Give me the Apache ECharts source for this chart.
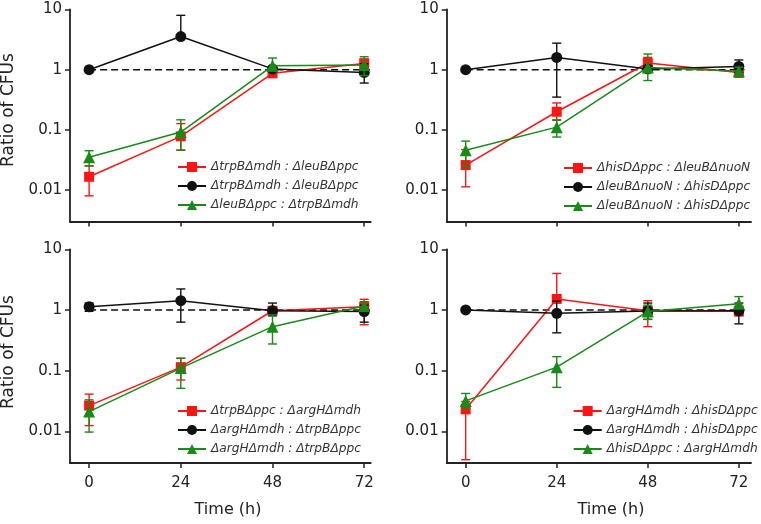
<!DOCTYPE html>
<html><head><meta charset="utf-8">
<script src="https://cdn.jsdelivr.net/npm/echarts@6/dist/echarts.min.js"></script>
<style>html,body{margin:0;padding:0;background:#fff}#c{width:761px;height:524px}</style>
</head><body><div id="c"></div>
<script>
// ---- data ----
const times = [0, 24, 48, 72];
const xTicks = [0, 24, 48, 72];
const yTicks = [0.01, 0.1, 1, 10];
const refLineX = [0, 73.5];
const refLineY = 1;

// Panel A (top-left)
const A_labels = ['ΔtrpBΔmdh : ΔleuBΔppc', 'ΔtrpBΔmdh : ΔleuBΔppc', 'ΔleuBΔppc : ΔtrpBΔmdh'];
const A_red = [0.0166, 0.078, 0.87, 1.27];
const A_red_lo = [0.008, 0.046, 0.80, 1.02];
const A_red_hi = [0.0252, 0.127, 0.95, 1.50];
const A_black = [1.0, 3.55, 1.03, 0.90];
const A_black_lo = [1.0, 3.55, 0.95, 0.60];
const A_black_hi = [1.0, 8.0, 1.12, 1.25];
const A_green = [0.035, 0.092, 1.16, 1.20];
const A_green_lo = [0.025, 0.046, 0.95, 0.80];
const A_green_hi = [0.045, 0.147, 1.56, 1.64];

// Panel B (top-right)
const B_labels = ['ΔhisDΔppc : ΔleuBΔnuoN', 'ΔleuBΔnuoN : ΔhisDΔppc', 'ΔleuBΔnuoN : ΔhisDΔppc'];
const B_red = [0.026, 0.20, 1.29, 0.90];
const B_red_lo = [0.0113, 0.144, 1.0, 0.75];
const B_red_hi = [0.047, 0.28, 1.60, 1.10];
const B_black = [1.0, 1.6, 1.03, 1.13];
const B_black_lo = [1.0, 0.35, 0.90, 0.90];
const B_black_hi = [1.0, 2.76, 1.15, 1.45];
const B_green = [0.046, 0.111, 1.09, 0.94];
const B_green_lo = [0.024, 0.076, 0.66, 0.80];
const B_green_hi = [0.065, 0.147, 1.82, 1.10];

// Panel C (bottom-left)
const C_labels = ['ΔtrpBΔppc : ΔargHΔmdh', 'ΔargHΔmdh : ΔtrpBΔppc', 'ΔargHΔmdh : ΔtrpBΔppc'];
const C_red = [0.0265, 0.114, 0.97, 1.13];
const C_red_lo = [0.0124, 0.07, 0.85, 0.57];
const C_red_hi = [0.041, 0.16, 1.10, 1.50];
const C_black = [1.13, 1.42, 0.97, 0.94];
const C_black_lo = [0.95, 0.63, 0.80, 0.63];
const C_black_hi = [1.30, 2.22, 1.30, 1.20];
const C_green = [0.0211, 0.11, 0.53, 1.16];
const C_green_lo = [0.0097, 0.051, 0.275, 1.0];
const C_green_hi = [0.033, 0.16, 0.83, 1.37];

// Panel D (bottom-right)
const D_labels = ['ΔargHΔmdh : ΔhisDΔppc', 'ΔargHΔmdh : ΔhisDΔppc', 'ΔhisDΔppc : ΔargHΔmdh'];
const D_red = [0.023, 1.52, 0.97, 0.95];
const D_red_lo = [0.0034, 1.52, 0.53, 0.80];
const D_red_hi = [0.031, 4.0, 1.42, 1.15];
const D_black = [1.0, 0.88, 0.96, 0.97];
const D_black_lo = [1.0, 0.42, 0.70, 0.59];
const D_black_hi = [1.0, 1.40, 1.30, 1.30];
const D_green = [0.0317, 0.114, 0.94, 1.26];
const D_green_lo = [0.024, 0.053, 0.70, 1.07];
const D_green_hi = [0.042, 0.17, 1.20, 1.66];

// ---- layout / style ----
const FONT = 'DejaVu Sans';
const colors = ['#ff1414', '#111111', '#178a17'];
const symbols = ['rect', 'circle', 'triangle'];
const symSizes = [10, 11, 12];

const panels = [
  {key: 'A', labels: A_labels, v: [A_red, A_black, A_green], lo: [A_red_lo, A_black_lo, A_green_lo], hi: [A_red_hi, A_black_hi, A_green_hi],
   grid: {left: 70, top: 9.5, width: 300.7, height: 212}, xmax: 73.7, showX: false, legend: {left: 177, top: 160}},
  {key: 'B', labels: B_labels, v: [B_red, B_black, B_green], lo: [B_red_lo, B_black_lo, B_green_lo], hi: [B_red_hi, B_black_hi, B_green_hi],
   grid: {left: 446.7, top: 9.5, width: 304.3, height: 212}, xmax: 75.2, showX: false, legend: {left: 563, top: 161}},
  {key: 'C', labels: C_labels, v: [C_red, C_black, C_green], lo: [C_red_lo, C_black_lo, C_green_lo], hi: [C_red_hi, C_black_hi, C_green_hi],
   grid: {left: 70, top: 249.3, width: 300.7, height: 213.7}, xmax: 73.7, showX: true, legend: {left: 177, top: 404}},
  {key: 'D', labels: D_labels, v: [D_red, D_black, D_green], lo: [D_red_lo, D_black_lo, D_green_lo], hi: [D_red_hi, D_black_hi, D_green_hi],
   grid: {left: 446.7, top: 249.3, width: 304.3, height: 213.7}, xmax: 75.2, showX: true, legend: {left: 572.7, top: 404}}
];

const labelMap = {};
const grids = [], xAxes = [], yAxes = [], series = [], legends = [];

function errRender(color) {
  return function (params, api) {
    const x = api.value(0), lo = api.value(1), hi = api.value(2), v = api.value(3);
    const pHi = api.coord([x, hi]);
    const pLo = api.coord([x, lo]);
    const pV = api.coord([x, v]);
    const w = 4.5;
    const st = {stroke: color, lineWidth: 1.4};
    const ch = [];
    if (hi > v) {
      ch.push({type: 'line', shape: {x1: pV[0], y1: pV[1], x2: pHi[0], y2: pHi[1]}, style: st});
      ch.push({type: 'line', shape: {x1: pHi[0] - w, y1: pHi[1], x2: pHi[0] + w, y2: pHi[1]}, style: st});
    }
    if (lo < v) {
      ch.push({type: 'line', shape: {x1: pV[0], y1: pV[1], x2: pLo[0], y2: pLo[1]}, style: st});
      ch.push({type: 'line', shape: {x1: pLo[0] - w, y1: pLo[1], x2: pLo[0] + w, y2: pLo[1]}, style: st});
    }
    return {type: 'group', children: ch};
  };
}

panels.forEach((p, i) => {
  grids.push(Object.assign({containLabel: false}, p.grid));
  xAxes.push({
    type: 'value', gridIndex: i, min: -5, max: p.xmax,
    axisLine: {show: true, onZero: false, lineStyle: {color: '#222', width: 1.8}},
    axisTick: {show: true, inside: false, length: 5, customValues: xTicks, lineStyle: {color: '#222', width: 1.5}},
    axisLabel: {show: p.showX, customValues: xTicks, fontFamily: FONT, fontSize: 15, color: '#222', margin: 13},
    splitLine: {show: false}
  });
  yAxes.push({
    type: 'log', logBase: 10, gridIndex: i, min: 0.003, max: 10,
    axisLine: {show: true, onZero: false, lineStyle: {color: '#222', width: 1.8}},
    axisTick: {show: true, inside: false, length: 5, customValues: yTicks, lineStyle: {color: '#222', width: 1.5}},
    axisLabel: {customValues: yTicks, fontFamily: FONT, fontSize: 15, color: '#222', margin: 8,
      formatter: v => String(+Number(v).toPrecision(3))},
    splitLine: {show: false}, minorTick: {show: false}
  });
  // reference dashed line at ratio 1
  series.push({
    type: 'line', xAxisIndex: i, yAxisIndex: i, silent: true, symbol: 'none', z: 1,
    data: refLineX.map(x => [x, refLineY]),
    lineStyle: {color: '#111', width: 1.5, type: [7, 4]}
  });
  const names = [];
  for (let k = 0; k < 3; k++) {
    const name = p.key + k;
    names.push(name);
    labelMap[name] = p.labels[k];
    series.push({
      type: 'custom', xAxisIndex: i, yAxisIndex: i, silent: true, z: 2 + k,
      renderItem: errRender(colors[k]),
      encode: {x: 0, y: [1, 2]},
      data: times.map((t, j) => [t, p.lo[k][j], p.hi[k][j], p.v[k][j]])
    });
    series.push({
      type: 'line', name: name, xAxisIndex: i, yAxisIndex: i, z: 2 + k,
      symbol: symbols[k], symbolSize: symSizes[k], showSymbol: true,
      data: times.map((t, j) => [t, p.v[k][j]]),
      lineStyle: {color: colors[k], width: 1.5},
      itemStyle: {color: colors[k]},
      emphasis: {disabled: true}
    });
  }
  legends.push({
    data: names, orient: 'vertical', left: p.legend.left, top: p.legend.top, padding: 0,
    itemWidth: 28, itemHeight: 12.5, itemGap: 5, selectedMode: false,
    formatter: n => labelMap[n],
    textStyle: {fontFamily: FONT, fontStyle: 'italic', fontSize: 12.2, color: '#333', lineHeight: 14}
  });
});

const chart = echarts.init(document.getElementById('c'), null, {renderer: 'canvas'});
chart.setOption({
  animation: false,
  backgroundColor: '#fff',
  grid: grids, xAxis: xAxes, yAxis: yAxes, series: series, legend: legends,
  graphic: [
    {type: 'text', x: 9, y: 110, rotation: Math.PI / 2, style: {text: 'Ratio of CFUs', font: '17px "DejaVu Sans"', fill: '#222', align: 'center', verticalAlign: 'middle'}},
    {type: 'text', x: 9, y: 352, rotation: Math.PI / 2, style: {text: 'Ratio of CFUs', font: '17px "DejaVu Sans"', fill: '#222', align: 'center', verticalAlign: 'middle'}},
    {type: 'text', x: 228, y: 510, style: {text: 'Time (h)', font: '16px "DejaVu Sans"', fill: '#222', align: 'center', verticalAlign: 'middle'}},
    {type: 'text', x: 611, y: 510, style: {text: 'Time (h)', font: '16px "DejaVu Sans"', fill: '#222', align: 'center', verticalAlign: 'middle'}}
  ]
});
</script></body></html>
